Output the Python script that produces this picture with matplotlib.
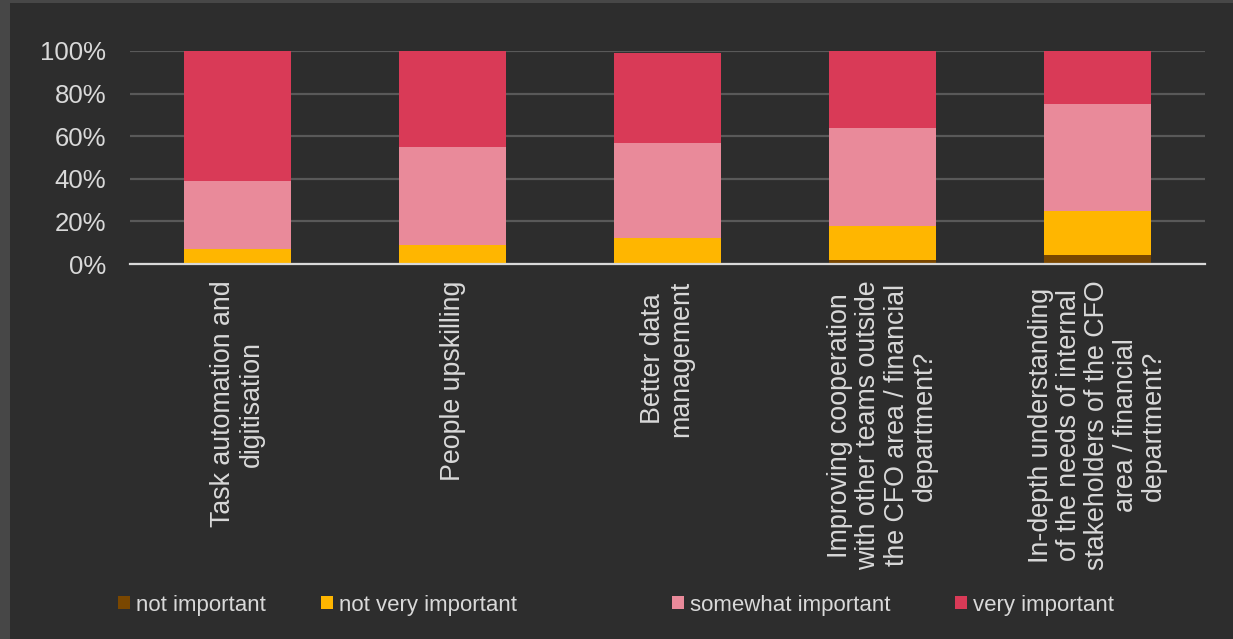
import matplotlib.pyplot as plt
import numpy as np
from matplotlib.patches import Rectangle
from matplotlib.ticker import PercentFormatter

plt.rcParams['font.family'] = ['Liberation Sans', 'DejaVu Sans']

# data (shares, in %)
categories = ["Task automation and\ndigitisation",
              "People upskilling",
              "Better data\nmanagement",
              "Improving cooperation\nwith other teams outside\nthe CFO area / financial\ndepartment?",
              "In-depth understanding\nof the needs of internal\nstakeholders of the CFO\narea / financial\ndepartment?"]
series_names = ["not important", "not very important", "somewhat important", "very important"]
not_important = [0.5, 0.5, 0.0, 2.0, 4.0]
not_very_important = [6.5, 8.5, 12.0, 16.0, 21.0]
somewhat_important = [32.0, 46.0, 45.0, 46.0, 50.0]
very_important = [61.0, 45.0, 42.0, 36.0, 25.0]

colors = ["#7a4700", "#ffb600", "#e98a9a", "#d93a57"]
bg = "#2d2d2d"
txt = "#d9d9d9"

fig = plt.figure(figsize=(12.33, 6.39), dpi=100, facecolor="#474747")
# inner panel (lighter border on left/top like the original)
fig.patches.append(Rectangle((10 / 1233, 0), 1, 1 - 3 / 639, transform=fig.transFigure,
                             facecolor=bg, edgecolor="none", zorder=-10))

ax = fig.add_axes([130 / 1233, 1 - 264 / 639, (1205 - 130) / 1233, (264 - 51) / 639])
ax.set_facecolor(bg)

x = np.arange(len(categories))
bottom = np.zeros(len(categories))
handles = []
for name, vals, c in zip(series_names,
                         [not_important, not_very_important, somewhat_important, very_important],
                         colors):
    vals = np.array(vals) / 100
    b = ax.bar(x, vals, 0.5, bottom=bottom, color=c, label=name, zorder=3)
    handles.append(b)
    bottom += vals

ax.set_xlim(-0.5, len(categories) - 0.5)
ax.set_ylim(0, 1)
ax.set_yticks(np.arange(0, 1.01, 0.2))
ax.yaxis.set_major_formatter(PercentFormatter(1.0, decimals=0))
ax.grid(axis="y", color="#595959", linewidth=1.6, zorder=0)
for s in ["top", "right", "left"]:
    ax.spines[s].set_visible(False)
ax.spines["bottom"].set_color("#d9d9d9")
ax.spines["bottom"].set_linewidth(1.6)
ax.spines["bottom"].set_zorder(4)

ax.set_xticks(x)
ax.set_xticklabels(categories, rotation=90, ha="center", va="top",
                   multialignment="center", linespacing=1.12)
ax.tick_params(axis="x", length=0, pad=12, labelsize=19.3, labelcolor=txt)
ax.tick_params(axis="y", length=0, pad=17, labelsize=18.5, labelcolor=txt)

# legend entries placed one by one (uneven spacing in the original)
leg_x = [118, 321, 672, 955]
for h, name, lx in zip(handles, series_names, leg_x):
    lg = fig.legend([h], [name], loc="center left",
                    bbox_to_anchor=(lx / 1233, 1 - 605 / 639),
                    frameon=False, fontsize=16, labelcolor=txt, borderpad=0,
                    borderaxespad=0, handlelength=0.55, handleheight=0.55,
                    handletextpad=0.25)

fig.savefig("out.png", dpi=100, facecolor=fig.get_facecolor())
